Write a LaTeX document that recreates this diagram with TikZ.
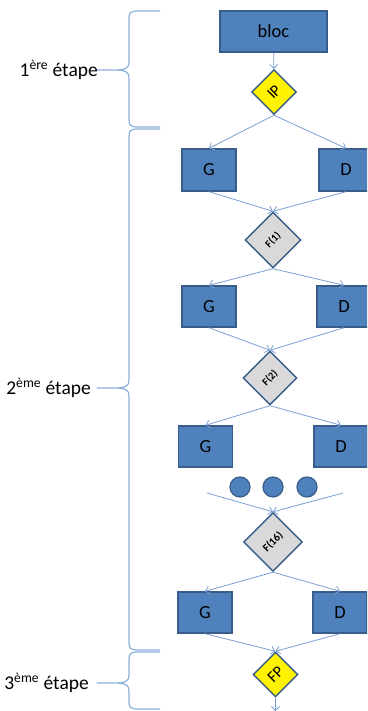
\documentclass[tikz,border=0pt]{standalone}
\usepackage{fontspec}
\usepackage{graphicx}
\setmainfont{Carlito}
\usetikzlibrary{shapes.geometric,arrows.meta}
\definecolor{boxfill}{HTML}{4F81BD}
\definecolor{boxline}{HTML}{385D8A}
\definecolor{link}{HTML}{7BA0D2}
\definecolor{bracecol}{HTML}{8DB0DB}
\definecolor{fgray}{HTML}{D9D9D9}
% curly brace: top y, middle y, bottom y
\newcommand\etapebrace[3]{%
  \draw[bracestyle] (160,#1) -- (138,#1) .. controls (130,#1) and (129,{#1+2}) .. (129,{#1+8})
    -- (129,{#2-8}) .. controls (129,{#2-2}) and (126,#2) .. (114,#2) -- (97,#2)
    -- (114,#2) .. controls (126,#2) and (129,{#2+2}) .. (129,{#2+8})
    -- (129,{#3-8}) .. controls (129,{#3-2}) and (130,#3) .. (138,#3) -- (160,#3);}
\begin{document}
\begin{tikzpicture}[x=1pt,y=-1pt,
  blk/.style={draw=boxline,line width=1.4pt,fill=boxfill,minimum width=54pt,
    minimum height=42pt,inner sep=0pt,font=\fontsize{18.5}{20}\selectfont},
  dia/.style={diamond,draw=boxline,line width=1.4pt,aspect=1,inner sep=0pt,
    minimum width=#1,minimum height=#1},
  conn/.style={draw=link,line width=0.8pt,-{Straight Barb[length=4pt,width=8pt]}},
  bracestyle/.style={draw=bracecol,line width=1.2pt,line join=round},
  dot/.style={circle,draw=boxline,line width=1.2pt,fill=boxfill,minimum size=20pt,inner sep=0pt},
  etape/.style={anchor=east,inner sep=0pt,font=\fontsize{19.5}{21}\selectfont}]
\useasboundingbox (0,0) rectangle (367,711);
\clip (0,0) rectangle (367,711);
\fill[white] (0,0) rectangle (367,711);

% braces and their labels
\etapebrace{11}{70}{127}
\etapebrace{129}{388}{650}
\etapebrace{652}{683}{709}
\node[etape] (e1) at (98,70) {1\textsuperscript{ère} étape};
\node[etape] (e2) at (91,388) {2\textsuperscript{ème} étape};
\node[etape] (e3) at (89,683) {3\textsuperscript{ème} étape};

% blocks
\node[blk,minimum width=107pt,minimum height=41pt] (bloc) at (273.5,31.5) {bloc};
\node[dia=45pt,fill=yellow] (ip) at (274,92) {\rotatebox{45}{\fontsize{16}{18}\selectfont IP}};

\node[blk] (g1) at (209,170) {G};
\node[blk] (d1) at (346,170) {D};
\node[dia=56pt,fill=fgray] (f1) at (273,240) {\rotatebox{45}{\fontsize{10.5}{12}\selectfont\bfseries F(1)}};

\node[blk,minimum height=41pt] (g2) at (209,306.5) {G};
\node[blk,minimum height=41pt] (d2) at (344,306.5) {D};
\node[dia=54pt,fill=fgray] (f2) at (270,378) {\rotatebox{45}{\fontsize{10.5}{12}\selectfont\bfseries F(2)}};

\node[blk,minimum height=41pt] (g3) at (205.5,446.5) {G};
\node[blk,minimum height=41pt] (d3) at (341,446.5) {D};

\node[dot] (c1) at (240,487) {};
\node[dot] (c2) at (273,487) {};
\node[dot] (c3) at (307,487) {};
\coordinate (dl) at (207,493);
\coordinate (dr) at (343,493);

\node[dia=59pt,fill=fgray] (f16) at (273,542) {\rotatebox{45}{\fontsize{11}{13}\selectfont\bfseries F(16)}};
\node[blk,minimum height=41pt] (g4) at (205,612.5) {G};
\node[blk,minimum height=41pt] (d4) at (340,612.5) {D};
\node[dia=45pt,fill=yellow] (fp) at (275.5,674.5) {\rotatebox{45}{\fontsize{16}{18}\selectfont FP}};
\coordinate (out) at (275.5,711);

% connectors
\draw[conn] (bloc) -- (ip);
\draw[conn] (ip.south) -- (g1.north);
\draw[conn] (ip.south) -- (d1.north);
\draw[conn] (g1.south) -- (f1.north);
\draw[conn] (d1.south) -- (f1.north);
\draw[conn] (f1.south) -- (g2.north);
\draw[conn] (f1.south) -- (d2.north);
\draw[conn] (g2.south) -- (f2.north);
\draw[conn] (d2.south) -- (f2.north);
\draw[conn] (f2.south) -- (g3.north);
\draw[conn] (f2.south) -- (d3.north);
\draw[conn] (dl) -- (f16.north);
\draw[conn] (dr) -- (f16.north);
\draw[conn] (f16.south) -- (g4.north);
\draw[conn] (f16.south) -- (d4.north);
\draw[conn] (g4.south) -- (fp.north);
\draw[conn] (d4.south) -- (fp.north);
\draw[conn] (fp.south) -- (out);
\end{tikzpicture}
\end{document}
